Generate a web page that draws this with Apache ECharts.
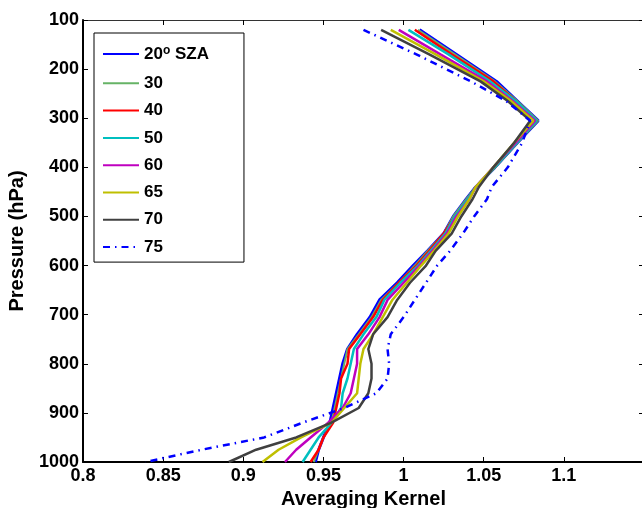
<!DOCTYPE html>
<html>
<head>
<meta charset="utf-8">
<script src="https://cdn.jsdelivr.net/npm/echarts@6/dist/echarts.min.js"></script>
<style>
html,body{margin:0;padding:0;background:#fff;}
#c{width:642px;height:508px;}
</style>
</head>
<body>
<div id="c"></div>
<script>
// Pressure levels (hPa)
var pressure = [120,170,225,265,305,350,400,440,465,500,535,570,600,635,670,705,740,770,800,830,860,890,920,950,975,1000];
// Averaging kernel values per SZA
var sza20 = [1.010,1.033,1.058,1.071,1.084,1.071,1.057,1.045,1.039,1.031,1.025,1.015,1.006,0.996,0.985,0.979,0.971,0.965,0.962,0.960,0.958,0.956,0.954,0.950,0.947,0.945];
var sza30 = [1.009,1.032,1.057,1.071,1.084,1.071,1.057,1.045,1.039,1.031,1.025,1.015,1.007,0.997,0.986,0.980,0.972,0.965,0.963,0.961,0.959,0.957,0.955,0.950,0.947,0.944];
var sza40 = [1.007,1.030,1.056,1.070,1.083,1.071,1.057,1.045,1.040,1.032,1.025,1.016,1.008,0.997,0.987,0.981,0.973,0.966,0.965,0.961,0.960,0.958,0.956,0.950,0.947,0.942];
var sza50 = [1.003,1.028,1.054,1.070,1.083,1.071,1.057,1.045,1.040,1.032,1.026,1.017,1.009,0.998,0.988,0.983,0.975,0.969,0.967,0.965,0.962,0.961,0.955,0.947,0.942,0.937];
var sza60 = [0.997,1.023,1.052,1.068,1.082,1.070,1.056,1.045,1.041,1.033,1.027,1.018,1.010,1.000,0.990,0.985,0.978,0.971,0.971,0.969,0.967,0.962,0.953,0.942,0.933,0.926];
var sza65 = [0.992,1.020,1.050,1.067,1.081,1.069,1.056,1.045,1.041,1.034,1.028,1.019,1.011,1.002,0.993,0.987,0.981,0.975,0.973,0.972,0.971,0.963,0.955,0.936,0.922,0.912];
var sza70 = [0.986,1.016,1.048,1.065,1.079,1.069,1.056,1.047,1.043,1.036,1.030,1.020,1.014,1.004,0.996,0.990,0.981,0.978,0.980,0.980,0.978,0.972,0.955,0.933,0.908,0.891];
var sza75 = [0.975,1.008,1.042,1.064,1.079,1.074,1.065,1.055,1.052,1.044,1.037,1.029,1.021,1.014,1.007,1.000,0.992,0.990,0.991,0.990,0.983,0.963,0.937,0.913,0.874,0.839];
var seriesNames = ['20° SZA','30','40','50','60','65','70','75'];
var seriesValues = [sza20,sza30,sza40,sza50,sza60,sza65,sza70,sza75];
var seriesColors = ['#0000ff','#66b366','#ff0000','#00bfbf','#bf00bf','#bfbf00','#404040','#0000ff'];
var seriesWidths = [3,2,2.5,2.5,2.5,2.5,2.5,2.5];
var xTicks = [0.8,0.85,0.9,0.95,1,1.05,1.1];
var yTicks = [100,200,300,400,500,600,700,800,900,1000];

var FONT = '"Liberation Sans", Arial, Helvetica, sans-serif';
var chart = echarts.init(document.getElementById('c'), null, {renderer:'canvas'});

var series = seriesNames.map(function(name, i){
  return {
    name: name,
    type: 'line',
    xAxisIndex: 0, yAxisIndex: 0,
    symbol: 'none',
    smooth: false,
    animation: false,
    data: seriesValues[i].map(function(v, k){ return [v, pressure[k]]; }),
    lineStyle: {
      color: seriesColors[i],
      width: seriesWidths[i],
      type: i === 7 ? [7,5,1.5,5] : 'solid'
    },
    itemStyle: {color: seriesColors[i]}
  };
});

var labelStyle = {color:'#000', fontWeight:'bold', fontSize:18, fontFamily:FONT};
var titleStyle = {color:'#000', fontWeight:'bold', fontSize:20, fontFamily:FONT};

chart.setOption({
  animation: false,
  backgroundColor: '#fff',
  grid: {left:83, top:20, right:-2, bottom:46, containLabel:false, outerBoundsMode:'none'},
  legend: {
    orient: 'vertical',
    left: 94, top: 33,
    padding: [12, 35, 6, 8],
    itemWidth: 36, itemHeight: 14, itemGap: 9.3,
    backgroundColor: '#fff',
    borderColor: '#000', borderWidth: 1, borderRadius: 0,
    itemStyle: {opacity: 0, borderWidth: 0},
    data: seriesNames,
    formatter: function(n){ return n === '20° SZA' ? '20{sup|o} SZA' : n; },
    textStyle: {
      color:'#000', fontWeight:'bold', fontSize:17, fontFamily:FONT, lineHeight:18,
      rich: { sup: {fontSize:12, fontWeight:'bold', fontFamily:FONT, color:'#000', verticalAlign:'top', lineHeight:10, padding:[0,0,8,0]} }
    }
  },
  xAxis: [{
    type:'value', position:'bottom', min:0.8, max:1.15, interval:0.05,
    name:'Averaging Kernel', nameLocation:'middle', nameGap:27,
    nameTextStyle: titleStyle,
    axisLine:{show:true, onZero:false, lineStyle:{color:'#000', width:2}},
    axisTick:{show:true, inside:true, length:5, lineStyle:{color:'#000', width:1}},
    axisLabel: Object.assign({margin:5, formatter:function(v){
      for (var i=0;i<xTicks.length;i++){ if (Math.abs(v-xTicks[i])<1e-6) return String(xTicks[i]); }
      return '';
    }}, labelStyle),
    splitLine:{show:false}
  },{
    type:'value', position:'top', min:0.8, max:1.15, interval:0.05,
    axisLine:{show:true, onZero:false, lineStyle:{color:'#333', width:1}},
    axisTick:{show:true, inside:true, length:5, lineStyle:{color:'#000', width:1}},
    axisLabel:{show:false}, splitLine:{show:false}
  }],
  yAxis: [{
    type:'value', position:'left', inverse:true, min:100, max:1000, interval:100,
    name:'Pressure (hPa)', nameLocation:'middle', nameGap:56, nameRotate:90,
    nameTextStyle: titleStyle,
    axisLine:{show:true, onZero:false, lineStyle:{color:'#000', width:2}},
    axisTick:{show:true, inside:true, length:5, lineStyle:{color:'#000', width:1}},
    axisLabel: Object.assign({margin:4, formatter:function(v){
      for (var i=0;i<yTicks.length;i++){ if (v===yTicks[i]) return String(v); }
      return '';
    }}, labelStyle),
    splitLine:{show:false}
  },{
    type:'value', position:'right', inverse:true, min:100, max:1000, interval:100,
    axisLine:{show:true, onZero:false, lineStyle:{color:'#333', width:1}},
    axisTick:{show:true, inside:true, length:5, lineStyle:{color:'#000', width:1}},
    axisLabel:{show:false}, splitLine:{show:false}
  }],
  series: series
});
</script>
</body>
</html>
